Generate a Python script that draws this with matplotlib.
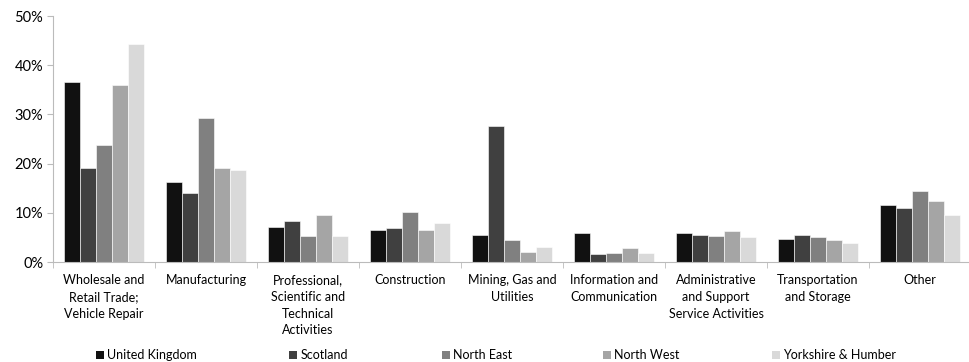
import matplotlib
matplotlib.use("Agg")
import matplotlib.pyplot as plt
from matplotlib.ticker import PercentFormatter
from matplotlib.patches import Patch
import numpy as np

plt.rcParams['font.family'] = ['Lato', 'DejaVu Sans']

categories = ["Wholesale and\nRetail Trade;\nVehicle Repair", "Manufacturing",
              "Professional,\nScientific and\nTechnical\nActivities", "Construction",
              "Mining, Gas and\nUtilities", "Information and\nCommunication",
              "Administrative\nand Support\nService Activities", "Transportation\nand Storage", "Other"]
regions = ["United Kingdom", "Scotland", "North East", "North West", "Yorkshire & Humber"]
uk = [36.5, 16.2, 7.2, 6.6, 5.5, 5.8, 5.95, 4.65, 11.6]
scotland = [19.2, 14.1, 8.4, 7.0, 27.7, 1.6, 5.5, 5.4, 10.95]
north_east = [23.8, 29.3, 5.3, 10.1, 4.5, 1.75, 5.2, 5.0, 14.4]
north_west = [35.9, 19.2, 9.6, 6.6, 1.95, 2.8, 6.4, 4.4, 12.5]
yorkshire = [44.3, 18.7, 5.3, 8.0, 3.1, 1.9, 5.0, 3.8, 9.5]
series = [uk, scotland, north_east, north_west, yorkshire]
colors = ["#111111", "#404040", "#808080", "#a5a5a5", "#d9d9d9"]

fig = plt.figure(figsize=(9.69, 3.62), dpi=100)
ax = fig.add_axes([53/969, 100/362, 918/969, 246/362])

x = np.arange(len(categories))
w = 0.157
for i, (vals, c) in enumerate(zip(series, colors)):
    ax.bar(x + (i - 2) * w, vals, w, color=c, edgecolor="white", linewidth=0.4, label=regions[i])

ax.set_xlim(-0.5, len(categories) - 0.5)
ax.set_ylim(0, 50)
ax.set_yticks(np.arange(0, 51, 10))
ax.yaxis.set_major_formatter(PercentFormatter(decimals=0))
ax.set_xticks(x)
ax.set_xticklabels(categories, fontsize=9, linespacing=1.45)
ax.set_xticks(np.arange(-0.5, len(categories), 1), minor=True)
ax.tick_params(axis='x', which='major', length=0, pad=9)
ax.tick_params(axis='x', which='minor', length=4, color="#bbbbbb")
ax.tick_params(axis='y', length=4, color="#bbbbbb", labelsize=10.5, pad=3)
for s in ["top", "right"]:
    ax.spines[s].set_visible(False)
for s in ["left", "bottom"]:
    ax.spines[s].set_color("#bbbbbb")
    ax.spines[s].set_linewidth(0.8)

legend_x = [96, 289, 442, 603, 772]
for name, c, lx in zip(regions, colors, legend_x):
    fig.legend([Patch(facecolor=c, edgecolor="none")], [name], loc="center left",
               bbox_to_anchor=(lx/969, 7/362), borderaxespad=0, borderpad=0,
               frameon=False, fontsize=9, handlelength=0.6, handleheight=0.6,
               handletextpad=0.3)

fig.savefig("out.png", dpi=100)
